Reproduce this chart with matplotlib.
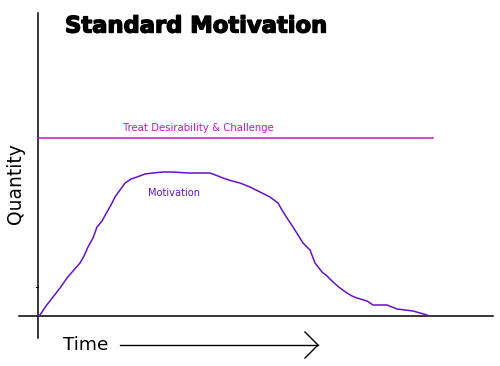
import matplotlib
matplotlib.use('Agg')
import matplotlib.pyplot as plt
import matplotlib.patheffects as pe

# units: pixels from the axis origin (time to the right, quantity upward)
time = [0, 2, 8, 15, 22, 29, 35, 42, 46, 50, 55, 59, 64, 69, 73, 77, 82, 87,
        93, 99, 107, 115, 125, 135, 150, 172, 180, 185, 194, 202, 207, 212,
        222, 232, 240, 244, 249, 255, 260, 265, 272, 277, 284, 289, 295, 302,
        309, 314, 319, 329, 335, 349, 359, 367, 375, 382, 389]
motivation = [0, 1, 10, 19, 28, 38, 45, 53, 60, 69, 78, 89, 95, 104, 111,
              119, 126, 133, 137, 139, 142, 143, 144, 144, 143, 143, 140, 138,
              135, 133, 131, 129, 124, 119, 113, 106, 98, 89, 81, 73, 66, 53,
              44, 40, 34, 28, 23, 20, 18, 15, 11, 11, 7, 6, 5, 3, 1]
treat_level = 178
treat_span = [0, 395]

PURPLE = '#6611CC'
MAGENTA = '#CC11CC'

fig = plt.figure(figsize=(5.0, 3.66), dpi=100)
ax = fig.add_axes([0, 0, 1, 1])
ax.set_xlim(-38, 462)
ax.set_ylim(-50, 316)
ax.axis('off')

# axes drawn as plain lines
ax.plot([0, 0], [-22, 303], color='black', lw=1.1)
ax.plot([-19, 455], [0, 0], color='black', lw=1.1)
ax.plot([-2, 0], [29, 29], color='black', lw=0.8)

ax.plot(treat_span, [treat_level, treat_level], color=MAGENTA, lw=1.1)
ax.plot(time, motivation, color=PURPLE, lw=1.1)

ax.text(27, 290, 'Standard Motivation', fontsize=16.3, fontweight='heavy',
        family='DejaVu Sans', ha='left', va='center',
        path_effects=[pe.withStroke(linewidth=1.0, foreground='black')])
ax.text(85, 188, 'Treat Desirability & Challenge', fontsize=7.3, color=MAGENTA,
        ha='left', va='center')
ax.text(110, 123, 'Motivation', fontsize=7.1, color=PURPLE, ha='left', va='center')
ax.text(-22, 132, 'Quantity', fontsize=13.5, rotation=90, ha='center', va='center')
ax.text(25, -29, 'Time', fontsize=13.3, ha='left', va='center')

ax.plot([82, 280], [-29, -29], color='black', lw=1)
ax.plot([267, 280, 267], [-16, -29, -42], color='black', lw=1)

fig.savefig('out.png', dpi=100)
